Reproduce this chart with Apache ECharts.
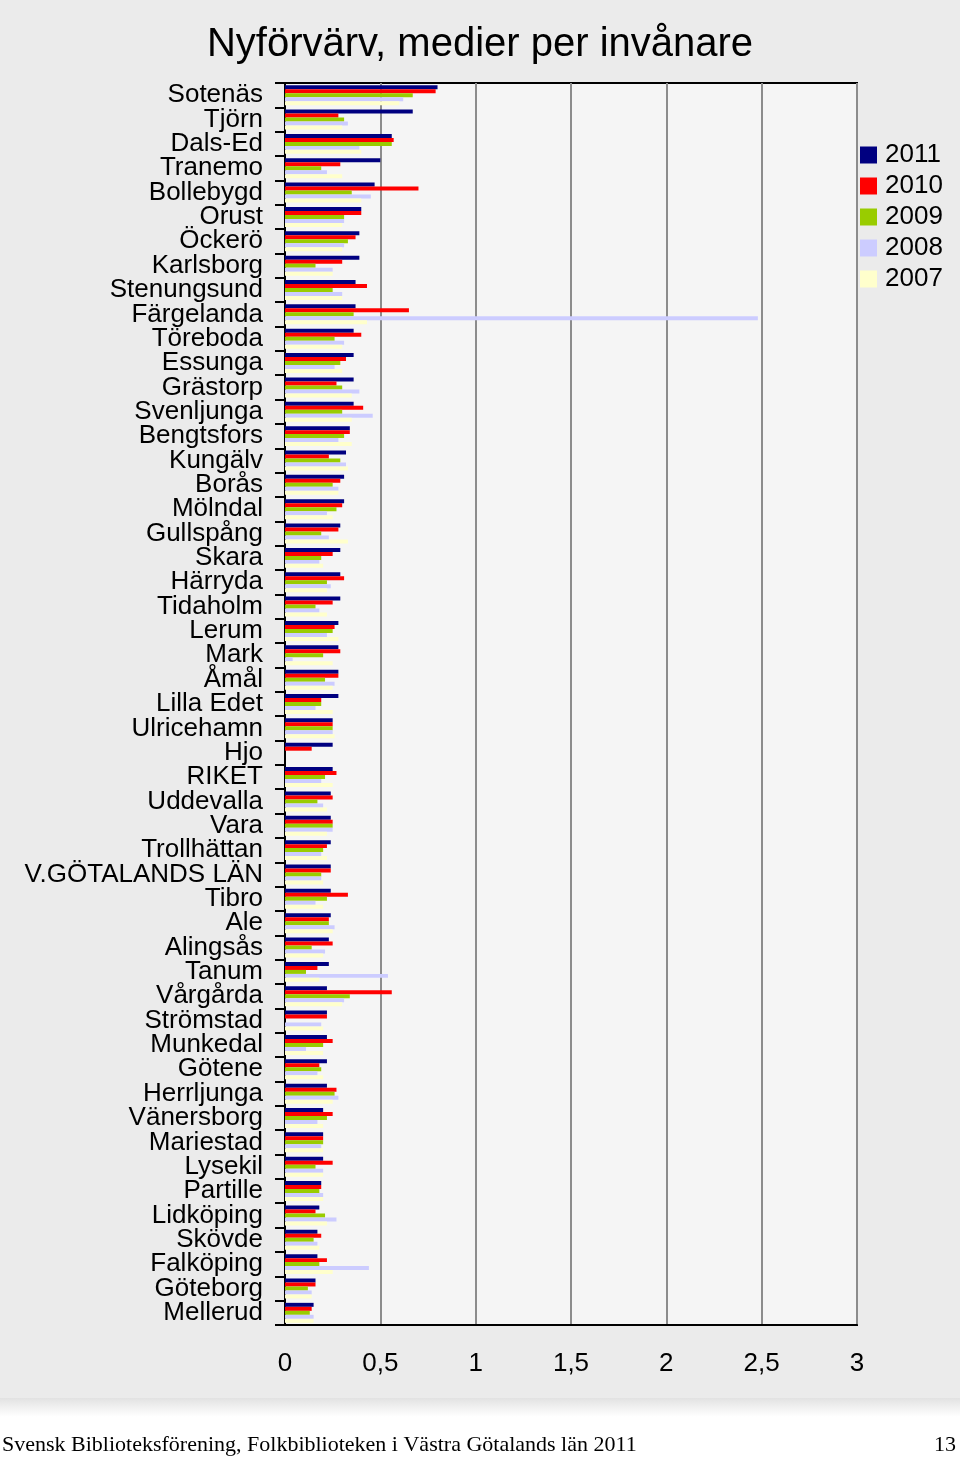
<!DOCTYPE html>
<html><head><meta charset="utf-8">
<script src="https://cdn.jsdelivr.net/npm/echarts@6/dist/echarts.min.js"></script>
<style>html,body{margin:0;padding:0;background:#fff}#c{width:960px;height:1460px}</style>
</head><body><div id="c"></div>
<script>
const categories = ["Sotenäs","Tjörn","Dals-Ed","Tranemo","Bollebygd","Orust","Öckerö","Karlsborg","Stenungsund","Färgelanda","Töreboda","Essunga","Grästorp","Svenljunga","Bengtsfors","Kungälv","Borås","Mölndal","Gullspång","Skara","Härryda","Tidaholm","Lerum","Mark","Åmål","Lilla Edet","Ulricehamn","Hjo","RIKET","Uddevalla","Vara","Trollhättan","V.GÖTALANDS LÄN","Tibro","Ale","Alingsås","Tanum","Vårgårda","Strömstad","Munkedal","Götene","Herrljunga","Vänersborg","Mariestad","Lysekil","Partille","Lidköping","Skövde","Falköping","Göteborg","Mellerud"];
const y2011 = [0.80,0.67,0.56,0.50,0.47,0.40,0.39,0.39,0.37,0.37,0.36,0.36,0.36,0.36,0.34,0.32,0.31,0.31,0.29,0.29,0.29,0.29,0.28,0.28,0.28,0.28,0.25,0.25,0.25,0.24,0.24,0.24,0.24,0.24,0.24,0.23,0.23,0.22,0.22,0.22,0.22,0.22,0.20,0.20,0.20,0.19,0.18,0.17,0.17,0.16,0.15];
const y2010 = [0.79,0.28,0.57,0.29,0.70,0.40,0.37,0.30,0.43,0.65,0.40,0.32,0.27,0.41,0.34,0.23,0.29,0.30,0.28,0.25,0.31,0.25,0.26,0.29,0.28,0.19,0.25,0.14,0.27,0.25,0.25,0.22,0.24,0.33,0.23,0.25,0.17,0.56,0.22,0.25,0.18,0.27,0.25,0.20,0.25,0.19,0.16,0.19,0.22,0.16,0.14];
const y2009 = [0.67,0.31,0.56,0.19,0.35,0.31,0.33,0.16,0.25,0.36,0.26,0.29,0.30,0.30,0.31,0.29,0.25,0.27,0.19,0.19,0.22,0.16,0.25,0.20,0.21,0.19,0.25,0,0.21,0.17,0.25,0.20,0.19,0.22,0.23,0.14,0.11,0.34,0,0.20,0.19,0.26,0.22,0.20,0.16,0.18,0.21,0.15,0.18,0.12,0.13];
const y2008 = [0.62,0.33,0.39,0.22,0.45,0.31,0.31,0.25,0.30,2.48,0.31,0.26,0.39,0.46,0.28,0.32,0.28,0.22,0.23,0.18,0.24,0.18,0.22,0.04,0.26,0.16,0.25,0,0.19,0.20,0.25,0.19,0.19,0.16,0.26,0.21,0.54,0.31,0.19,0.11,0.17,0.28,0.17,0.19,0.20,0.20,0.27,0.17,0.44,0.14,0.15];
const y2007 = [0.60,0.30,0.40,0.30,0.40,0.30,0.30,0.25,0.30,0.43,0.30,0.30,0.35,0.35,0.35,0.33,0.28,0.25,0.33,0.20,0.22,0.22,0.28,0.25,0.25,0.25,0.26,0,0.25,0.22,0.22,0.22,0.20,0.20,0.25,0.20,0.18,0.30,0.20,0.20,0.20,0.25,0.20,0.20,0.20,0.20,0.22,0.18,0.25,0.14,0.15];
const seriesNames = ["2011","2010","2009","2008","2007"];
const seriesColors = ["#000080","#FF0000","#99CC00","#CCCCFF","#FFFFCC"];
const seriesData = [y2011,y2010,y2009,y2008,y2007];

const chart = echarts.init(document.getElementById('c'), null, {renderer:'canvas'});
chart.setOption({
  backgroundColor: '#EBEBEB',
  animation: false,
  textStyle: {fontFamily: 'Liberation Sans, Arial, sans-serif'},
  title: {
    text: 'Nyförvärv, medier per invånare', left: 'center', top: 20,
    textStyle: {fontSize: 40, fontWeight: 'normal', color: '#000', fontFamily: 'Liberation Sans, Arial, sans-serif'}
  },
  legend: {
    data: seriesNames, orient: 'vertical', left: 855, top: 137,
    itemWidth: 17, itemHeight: 17, itemGap: 5, icon: 'rect',
    textStyle: {fontSize: 26, color: '#000', lineHeight: 26, padding: [0,0,0,3]}
  },
  grid: {
    left: 285, right: 103, top: 83, bottom: 135, show: true,
    backgroundColor: '#F5F5F5', borderColor: '#000', borderWidth: 2
  },
  xAxis: {
    type: 'value', min: 0, max: 3, interval: 0.5,
    axisLine: {show: true, lineStyle: {color: '#000', width: 2}},
    axisTick: {show: false},
    axisLabel: {fontSize: 26, color: '#000', margin: 26, formatter: v => String(v).replace('.', ',')},
    splitLine: {show: true, lineStyle: {color: '#8C8C8C', width: 2}}
  },
  yAxis: {
    type: 'category', data: categories, inverse: true,
    axisLine: {show: true, lineStyle: {color: '#000', width: 2}},
    axisTick: {show: true, length: 10, lineStyle: {color: '#000', width: 2}},
    axisLabel: {fontSize: 26, color: '#000', interval: 0, margin: 22, lineHeight: 26, padding: [3,0,0,0]}
  },
  series: seriesNames.map((n, i) => ({
    name: n, type: 'bar', data: seriesData[i],
    itemStyle: {color: seriesColors[i]},
    barGap: '0%', barCategoryGap: '18%'
  })),
  graphic: [
    {type: 'rect', shape: {x: 0, y: 1398, width: 960, height: 62}, style: {fill: new echarts.graphic.LinearGradient(0,0,0,1,[{offset:0,color:'#E2E2E2'},{offset:0.3,color:'#FFFFFF'},{offset:1,color:'#FFFFFF'}])}, silent: true},
    {type: 'text', left: 2, top: 1434, style: {text: 'Svensk Biblioteksförening, Folkbiblioteken i Västra Götalands län 2011', font: '22px "Liberation Serif", serif', fill: '#000'}},
    {type: 'text', right: 4, top: 1434, style: {text: '13', font: '22px "Liberation Serif", serif', fill: '#000'}}
  ]
});
</script></body></html>
